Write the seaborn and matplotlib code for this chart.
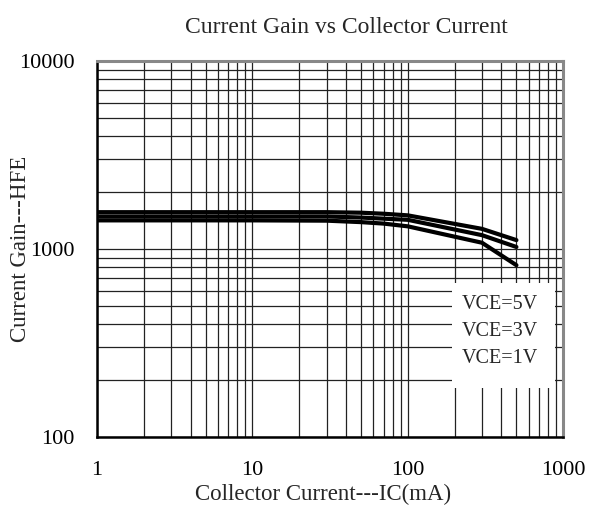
import matplotlib
matplotlib.use('Agg')
import matplotlib.pyplot as plt
import matplotlib.ticker as mticker
from matplotlib.patches import Rectangle
import pandas as pd
import seaborn as sns

# data
ic = [1, 10, 30, 50, 70, 100, 300, 500]
hfe_5v = [1570, 1570, 1570, 1560, 1540, 1510, 1280, 1115]
hfe_3v = [1490, 1490, 1490, 1470, 1450, 1430, 1185, 1025]
hfe_1v = [1420, 1420, 1415, 1390, 1365, 1320, 1080, 820]
series = ['VCE=5V', 'VCE=3V', 'VCE=1V']

x_ticks = [1, 10, 100, 1000]
x_ticklabels = ['1', '10', '100', '1000']
y_ticks = [100, 1000, 10000]
y_ticklabels = ['100', '1000', '10000']

df = pd.DataFrame({
    'ic': ic * 3,
    'hfe': hfe_5v + hfe_3v + hfe_1v,
    'VCE': [series[0]] * len(ic) + [series[1]] * len(ic) + [series[2]] * len(ic),
})

sns.set_style('white')
plt.rcParams['font.family'] = ['Liberation Serif', 'DejaVu Serif']

fig = plt.figure(figsize=(5.89, 5.14), dpi=100)
ax = fig.add_axes([0.1647, 0.1498, 0.7915, 0.7315])

sns.lineplot(data=df, x='ic', y='hfe', hue='VCE', hue_order=series,
             palette=['black'] * 3, linewidth=3, ax=ax, legend=True,
             zorder=5)

ax.set_xscale('log')
ax.set_yscale('log')
ax.set_xlim(1, 1000)
ax.set_ylim(100, 10000)

ax.xaxis.set_major_locator(mticker.FixedLocator(x_ticks))
ax.xaxis.set_major_formatter(mticker.FixedFormatter(x_ticklabels))
ax.yaxis.set_major_locator(mticker.FixedLocator(y_ticks))
ax.yaxis.set_major_formatter(mticker.FixedFormatter(y_ticklabels))
ax.xaxis.set_minor_locator(mticker.LogLocator(base=10, subs=range(2, 10)))
ax.yaxis.set_minor_locator(mticker.LogLocator(base=10, subs=range(2, 10)))
ax.xaxis.set_minor_formatter(mticker.NullFormatter())
ax.yaxis.set_minor_formatter(mticker.NullFormatter())

ax.grid(True, which='both', color='#222222', linewidth=0.9)
ax.tick_params(which='major', direction='in', length=7, width=1.2,
               labelsize=16, colors='black')
ax.tick_params(which='minor', length=0)
ax.tick_params(axis='x', pad=17)
ax.tick_params(axis='y', pad=16)

for side in ['left', 'bottom']:
    ax.spines[side].set_color('black')
    ax.spines[side].set_linewidth(1.8)
for side in ['top', 'right']:
    ax.spines[side].set_color('#888888')
    ax.spines[side].set_linewidth(2.2)

ax.set_title('Current Gain vs Collector Current', fontsize=17, x=0.534, pad=20)
ax.set_xlabel('Collector Current---IC(mA)', fontsize=16.5)
ax.xaxis.set_label_coords(0.484, -0.125)
ax.set_ylabel('Current Gain---HFE', fontsize=16.5)
ax.yaxis.set_label_coords(-0.141, 0.5)

# white box behind the labels of the curves
ax.add_patch(Rectangle((0.762, 0.13), 0.221, 0.28, transform=ax.transAxes,
                       facecolor='white', edgecolor='none', zorder=3))
leg = ax.legend(loc='upper left', bbox_to_anchor=(0.765, 0.40), frameon=False,
                handlelength=0, handletextpad=0, fontsize=14.5,
                labelspacing=0.4, borderaxespad=0)
for h in leg.legend_handles:
    h.set_visible(False)
leg.set_zorder(6)

fig.savefig('out.png', dpi=100)
